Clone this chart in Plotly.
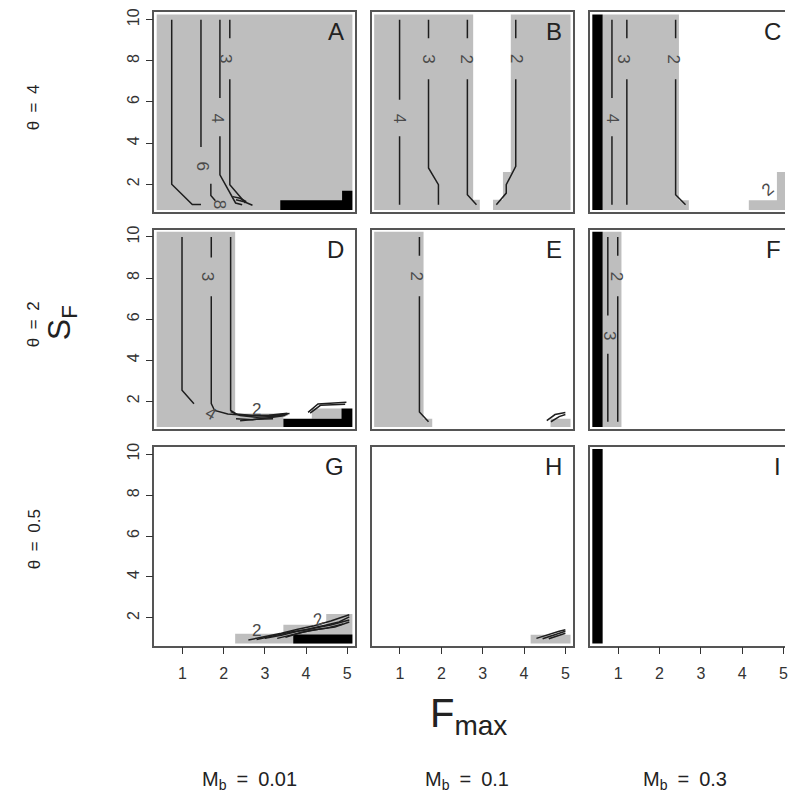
import plotly.graph_objects as go

# ---------------- data ----------------
PANEL_LETTERS = ["A", "B", "C", "D", "E", "F", "G", "H", "I"]
ROW_LABELS = ["θ\u2002=\u20024", "θ\u2002=\u20022", "θ\u2002=\u20020.5"]
COL_LABELS = ["0.01", "0.1", "0.3"]
X_TICKS = [1, 2, 3, 4, 5]
Y_TICKS = [2, 4, 6, 8, 10]

# region rectangles (x0, x1, y0, y1) in data units (Fmax, sF)
A_gray = [(0.375, 5.125, 0.75, 10.25)]
A_white = []
A_black = [(3.375, 5.125, 0.75, 1.22), (4.875, 5.125, 1.22, 1.69)]
A_lines = [
    ([0.74, 0.74, 1.24, 1.45], [10, 2.0, 1.02, 1.02]),
    ([1.45, 1.45, None, 1.69, 1.69, 1.80], [10, 3.81, None, 2.03, 1.45, 1.2]),
    ([1.91, 1.91, None, 1.91, 1.91, 2.29, 2.45], [10, 6.19, None, 4.33, 2.46, 1.09, 1.0]),
    ([2.15, 2.15, None, 2.15, 2.15, 2.53], [10, 9.1, None, 7.11, 1.98, 1.09]),
    ([2.22, 2.4, 2.55], [1.4, 1.32, 1.15]),
    ([2.3, 2.5, 2.7], [1.25, 1.15, 0.98]),
]
A_labels = [("3", 2.03, 8.1, 90), ("4", 1.86, 5.2, 90), ("6", 1.48, 2.9, 90), ("8", 1.89, 1.05, 90)]

B_gray = [(0.375, 5.125, 0.75, 10.25)]
B_white = [(2.77, 3.68, 2.6, 10.3), (2.77, 3.49, 1.25, 2.6), (2.93, 3.25, 0.7, 1.25)]
B_black = []
B_lines = [
    ([0.99, 0.99, None, 0.99, 0.99], [10, 6.11, None, 4.33, 1.0]),
    ([1.69, 1.69, None, 1.69, 1.69, 1.93, 1.93], [10, 9.1, None, 7.11, 2.79, 1.98, 1.0]),
    ([2.63, 2.63, None, 2.63, 2.63, 2.85], [10, 9.1, None, 7.11, 1.49, 1.0]),
    ([3.80, 3.80, None, 3.80, 3.80, 3.57, 3.57, 3.33], [10, 9.1, None, 7.11, 2.87, 1.98, 1.57, 1.0]),
]
B_labels = [("4", 0.99, 5.2, 90), ("3", 1.69, 8.1, 90), ("2", 2.60, 8.1, 90), ("2", 3.80, 8.1, 90)]

C_gray = [(0.625, 2.47, 0.75, 10.25), (2.47, 2.71, 0.75, 1.22), (4.16, 4.84, 0.75, 1.22), (4.84, 5.125, 0.75, 2.6)]
C_white = []
C_black = [(0.375, 0.625, 0.75, 10.25)]
C_lines = [
    ([0.85, 0.85, None, 0.85, 0.85], [10, 6.19, None, 4.33, 1.0]),
    ([1.21, 1.21, None, 1.21, 1.21], [10, 9.1, None, 7.11, 1.0]),
    ([2.39, 2.39, None, 2.39, 2.39, 2.63], [10, 9.1, None, 7.11, 1.49, 1.0]),
]
C_labels = [("4", 0.87, 5.2, 90), ("3", 1.13, 8.1, 90), ("2", 2.33, 8.1, 90), ("2", 4.62, 1.75, -40)]

D_gray = [(0.375, 2.28, 0.75, 10.25), (2.28, 3.45, 0.75, 1.40), (4.14, 4.86, 1.15, 1.64)]
D_white = []
D_black = [(3.45, 5.125, 0.75, 1.15), (4.86, 5.125, 1.15, 1.64)]
D_lines = [
    ([0.99, 0.99, 1.28], [10, 2.53, 1.88]),
    ([1.70, 1.70, None, 1.70, 1.70, 1.78, 2.1, 2.6, 3.1, 3.55], [10, 9.0, None, 7.11, 1.88, 1.55, 1.38, 1.3, 1.32, 1.42]),
    ([2.17, 2.17, 2.3, 2.7, 3.2, 3.6], [10, 1.56, 1.38, 1.3, 1.3, 1.4]),
    ([2.17, 2.4, 2.8, 3.2, 3.55], [1.5, 1.3, 1.22, 1.25, 1.35]),
    ([2.3, 2.7, 3.1, 3.5], [1.15, 1.1, 1.2, 1.3]),
    ([2.4, 2.8, 3.2], [1.05, 1.12, 1.15]),
    ([4.05, 4.29, 4.98], [1.46, 1.87, 1.95]),
    ([4.1, 4.35, 4.95], [1.42, 1.8, 1.85]),
]
D_labels = [("3", 1.60, 8.1, 90), ("4", 1.69, 1.38, 30), ("2", 2.81, 1.62, 0)]

E_gray = [(0.375, 1.57, 0.75, 10.25), (1.57, 1.78, 0.75, 1.15), (4.64, 5.125, 0.75, 1.15)]
E_white = []
E_black = []
E_lines = [
    ([1.47, 1.47, None, 1.47, 1.47, 1.69], [10, 9.09, None, 7.11, 1.48, 1.0]),
    ([4.55, 4.75, 5.0], [1.05, 1.35, 1.45]),
    ([4.65, 4.85, 5.0], [1.0, 1.25, 1.35]),
]
E_labels = [("2", 1.40, 8.1, 90)]

F_gray = [(0.625, 1.08, 0.75, 10.25)]
F_white = []
F_black = [(0.375, 0.625, 0.75, 10.25)]
F_lines = [
    ([0.75, 0.75, None, 0.75, 0.75], [10, 6.17, None, 4.31, 1.0]),
    ([0.99, 0.99, None, 0.99, 0.99], [10, 9.09, None, 7.11, 1.0]),
]
F_labels = [("3", 0.79, 5.2, 90), ("2", 0.95, 8.1, 90)]

G_gray = [(2.28, 5.125, 0.75, 1.22), (3.45, 5.125, 1.22, 1.66), (4.49, 5.125, 1.66, 2.19)]
G_white = []
G_black = [(3.69, 5.125, 0.75, 1.19)]
G_lines = [
    ([2.6, 3.0, 3.4, 3.8, 4.2, 4.6, 5.05], [0.92, 1.08, 1.25, 1.45, 1.62, 1.85, 2.15]),
    ([2.8, 3.2, 3.6, 4.0, 4.4, 4.8, 5.05], [0.95, 1.12, 1.3, 1.42, 1.6, 1.8, 2.05]),
    ([3.0, 3.4, 3.8, 4.2, 4.6, 5.05], [1.0, 1.15, 1.35, 1.5, 1.65, 1.9]),
    ([3.3, 3.7, 4.1, 4.5, 4.9], [1.0, 1.2, 1.38, 1.5, 1.7]),
    ([3.5, 3.9, 4.3, 4.7, 5.05], [1.05, 1.3, 1.45, 1.55, 1.8]),
]
G_labels = [("2", 2.81, 1.38, 0), ("2", 4.3, 1.9, -20)]

H_gray = [(4.16, 5.125, 0.75, 1.18)]
H_white = []
H_black = []
H_lines = [
    ([4.3, 4.6, 4.85, 5.0], [1.0, 1.2, 1.35, 1.42]),
    ([4.45, 4.7, 4.9, 5.0], [0.98, 1.15, 1.3, 1.35]),
    ([4.6, 4.8, 5.0], [0.98, 1.12, 1.25]),
]
H_labels = []

I_gray = []
I_white = []
I_black = [(0.375, 0.625, 0.75, 10.25)]
I_lines = []
I_labels = []

PANELS = [
    (A_gray, A_white, A_black, A_lines, A_labels),
    (B_gray, B_white, B_black, B_lines, B_labels),
    (C_gray, C_white, C_black, C_lines, C_labels),
    (D_gray, D_white, D_black, D_lines, D_labels),
    (E_gray, E_white, E_black, E_lines, E_labels),
    (F_gray, F_white, F_black, F_lines, F_labels),
    (G_gray, G_white, G_black, G_lines, G_labels),
    (H_gray, H_white, H_black, H_lines, H_labels),
    (I_gray, I_white, I_black, I_lines, I_labels),
]

# ---------------- layout geometry ----------------
W, H = 788, 792
X_RANGE = [0.32, 5.18]
Y_RANGE = [0.64, 10.36]
COL_PX = [(155, 356), (373.3, 575), (592.3, 794)]   # third column runs off the page
ROW_PX = [(8.3, 209.3), (226.7, 427.3), (445, 645)]

FONT = "Liberation Sans, Arial, Helvetica, sans-serif"
GRAY = "#bebebe"
BORDER = "#555555"


def rect_path(rects):
    xs, ys = [], []
    for x0, x1, y0, y1 in rects:
        xs += [x0, x1, x1, x0, x0, None]
        ys += [y0, y0, y1, y1, y0, None]
    return xs, ys


fig = go.Figure()
layout = dict(
    width=W, height=H, margin=dict(l=0, r=0, t=0, b=0),
    plot_bgcolor="white", paper_bgcolor="white", showlegend=False,
    font=dict(family=FONT, color="#222"),
)
annotations = []

for k, (gray, white, black, lines, labels) in enumerate(PANELS):
    r, c = divmod(k, 3)
    n = k + 1
    xa = "x" if n == 1 else f"x{n}"
    ya = "y" if n == 1 else f"y{n}"

    for rects, col in ((gray, GRAY), (white, "white"), (black, "black")):
        if rects:
            xs, ys = rect_path(rects)
            fig.add_trace(go.Scatter(x=xs, y=ys, fill="toself", fillcolor=col,
                                     mode="lines", line=dict(width=0, color=col),
                                     hoverinfo="skip", xaxis=xa, yaxis=ya))
    for xs, ys in lines:
        fig.add_trace(go.Scatter(x=xs, y=ys, mode="lines",
                                 line=dict(color="#1e1e1e", width=1.5),
                                 hoverinfo="skip", xaxis=xa, yaxis=ya))
    for txt, lx, ly, ang in labels:
        annotations.append(dict(text=txt, x=lx, y=ly, xref=xa, yref=ya, showarrow=False,
                                xanchor="center", yanchor="middle",
                                textangle=ang, font=dict(size=17, color="#4a4a4a", family=FONT)))

    # axes
    x0p, x1p = COL_PX[c]
    full_w = x1p - x0p
    x1v = min(x1p, W)
    xr = [X_RANGE[0], X_RANGE[0] + (x1v - x0p) * (X_RANGE[1] - X_RANGE[0]) / full_w]
    y0p, y1p = ROW_PX[r]
    layout["xaxis" if n == 1 else f"xaxis{n}"] = dict(
        domain=[x0p / W, x1v / W], range=xr, anchor=ya,
        showline=True, mirror=True, linecolor=BORDER, linewidth=1.5,
        showgrid=False, zeroline=False,
        tickvals=X_TICKS, ticks="outside" if r == 2 else "", ticklen=7, tickwidth=1,
        tickcolor="#333", showticklabels=(r == 2), ticklabelstandoff=5,
        ticklabeloverflow="allow",
        tickfont=dict(size=16, color="#333", family=FONT),
    )
    layout["yaxis" if n == 1 else f"yaxis{n}"] = dict(
        domain=[1 - y1p / H, 1 - y0p / H], range=Y_RANGE, anchor=xa,
        showline=True, mirror=(c != 2), linecolor=BORDER, linewidth=1.5,
        showgrid=False, zeroline=False,
        tickvals=Y_TICKS, ticks="outside" if c == 0 else "", ticklen=7, tickwidth=1,
        tickcolor="#333", showticklabels=(c == 0), tickangle=-90, ticklabelstandoff=0,
        tickfont=dict(size=16, color="#333", family=FONT),
    )
    # panel letter
    annotations.append(dict(text=PANEL_LETTERS[k], xref=f"{xa} domain", yref=f"{ya} domain",
                            x=(x1p - 8.5 - x0p) / (x1v - x0p), y=1, xanchor="right", yanchor="top",
                            yshift=-4, showarrow=False,
                            font=dict(size=24, color="#222", family=FONT)))

# row labels
ROW_LABEL_Y = [104, 322, 538]
for lab, py in zip(ROW_LABELS, ROW_LABEL_Y):
    annotations.append(dict(text=lab, x=34 / W, y=1 - py / H, xref="paper", yref="paper",
                            xanchor="center", yanchor="middle",
                            showarrow=False, textangle=-90,
                            font=dict(size=17, color="#222", family=FONT)))
# column labels
COL_LABEL_X = [250, 469, 688]
for lab, px in zip(COL_LABELS, COL_LABEL_X):
    annotations.append(dict(text=f"M<sub>b</sub>\u2002=\u2002{lab}", x=px / W, y=1 - 780 / H,
                            xref="paper", yref="paper", showarrow=False,
                            xanchor="center", yanchor="middle",
                            font=dict(size=20, color="#222", family=FONT)))
# axis titles
annotations.append(dict(text="F<sub>max</sub>", x=470 / W, y=1 - 716 / H, xref="paper", yref="paper",
                        xanchor="center", yanchor="middle",
                        showarrow=False, font=dict(size=40, color="#222", family=FONT)))
annotations.append(dict(text="S<sub>F</sub>", x=62 / W, y=1 - 320 / H, xref="paper", yref="paper",
                        xanchor="center", yanchor="middle",
                        showarrow=False, textangle=-90, font=dict(size=32, color="#222", family=FONT)))

layout["annotations"] = annotations
fig.update_layout(**layout)
fig.write_html("out.html", config={"displayModeBar": False},
               post_script="document.body.style.margin='0';")
